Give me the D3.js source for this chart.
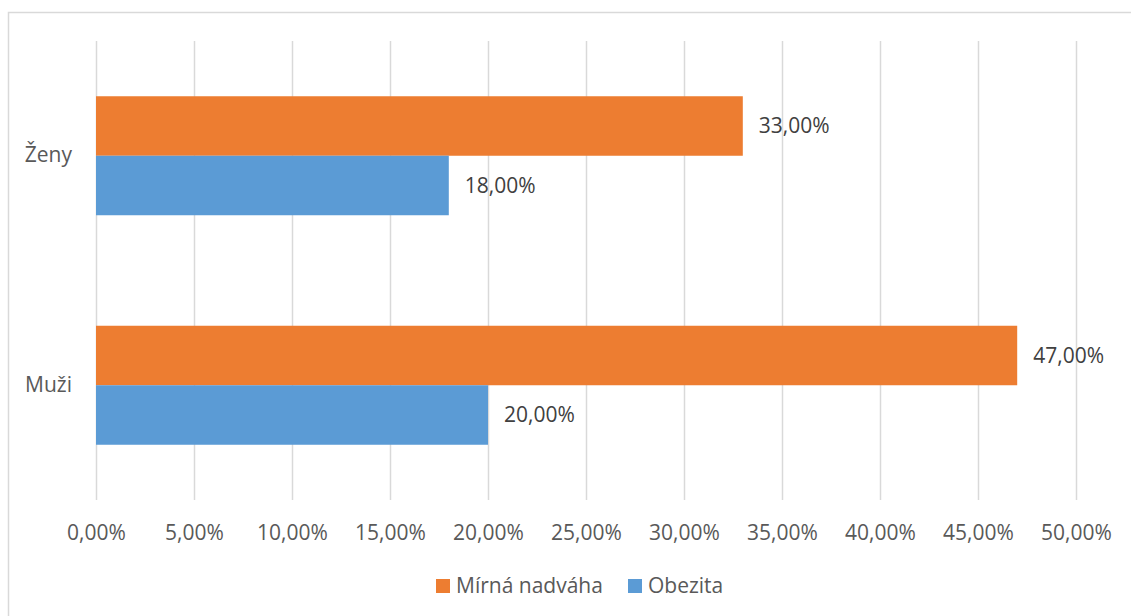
<!DOCTYPE html>
<html>
<head>
<meta charset="utf-8">
<script src="https://cdn.jsdelivr.net/npm/d3@7"></script>
<style>
  html, body { margin: 0; padding: 0; background: #fff; }
  svg { display: block; font-family: "Open Sans", "Noto Sans", sans-serif; }
</style>
</head>
<body>
<svg id="chart" width="1131" height="616"></svg>
<script>
// Categories, series and tick values
const categories = ["Ženy", "Muži"];
const seriesNames = ["Mírná nadváha", "Obezita"];
const seriesColors = ["#ED7D31", "#5B9BD5"];
const mirnaNadvaha = [0.33, 0.47];
const obezita = [0.18, 0.20];
const xTicks = [0, 0.05, 0.10, 0.15, 0.20, 0.25, 0.30, 0.35, 0.40, 0.45, 0.50];

const seriesValues = [mirnaNadvaha, obezita];
const fmt = v => d3.format(".2f")(v * 100).replace(".", ",") + "%";
const FS = 21;

const svg = d3.select("#chart");
const W = 1131, H = 616;
const plot = { left: 96, right: 1076, top: 41, bottom: 500 };

// outer frame
svg.append("rect")
  .attr("x", 8.5).attr("y", 12.5)
  .attr("width", W + 10).attr("height", H + 10)
  .attr("fill", "none").attr("stroke", "#d9d9d9").attr("stroke-width", 1.5);

const x = d3.scaleLinear().domain([0, 0.5]).range([plot.left, plot.right]);
const y = d3.scaleBand().domain(categories).range([plot.top, plot.bottom]).padding(0);

// bars take ~52% of each category band, split between the two series
const groupRatio = 119 / 229.5;
const y1 = d3.scaleBand().domain(seriesNames)
  .range([0, y.bandwidth() * groupRatio]).padding(0);
const groupOffset = y.bandwidth() * (1 - groupRatio) / 2;

// vertical gridlines + percentage labels
const xAxis = d3.axisBottom(x).tickValues(xTicks).tickFormat(fmt)
  .tickSize(-(plot.bottom - plot.top)).tickPadding(25);
const gx = svg.append("g")
  .attr("transform", `translate(0,${plot.bottom})`)
  .call(xAxis);
gx.select(".domain").remove();
gx.selectAll(".tick line").attr("stroke", "#d9d9d9").attr("stroke-width", 1.5);
gx.selectAll(".tick text")
  .attr("fill", "#595959").attr("font-size", FS)
  .attr("font-family", "'Open Sans', 'Noto Sans', sans-serif");

// category axis labels
const yAxis = d3.axisLeft(y).tickSize(0).tickPadding(24);
const gy = svg.append("g").attr("transform", `translate(${plot.left},0)`).call(yAxis);
gy.select(".domain").remove();
gy.selectAll(".tick text")
  .attr("fill", "#595959").attr("font-size", FS)
  .attr("font-family", "'Open Sans', 'Noto Sans', sans-serif");

// bars
const rows = [];
categories.forEach((c, ci) => {
  seriesNames.forEach((s, si) => {
    rows.push({ cat: c, series: s, value: seriesValues[si][ci], color: seriesColors[si] });
  });
});

const barG = svg.append("g");
barG.selectAll("rect").data(rows).join("rect")
  .attr("x", x(0))
  .attr("y", d => y(d.cat) + groupOffset + y1(d.series))
  .attr("width", d => x(d.value) - x(0))
  .attr("height", y1.bandwidth())
  .attr("fill", d => d.color);

// value labels
barG.selectAll("text").data(rows).join("text")
  .attr("x", d => x(d.value) + 16)
  .attr("y", d => y(d.cat) + groupOffset + y1(d.series) + y1.bandwidth() / 2)
  .attr("dy", "0.35em")
  .attr("fill", "#404040").attr("font-size", FS)
  .text(d => fmt(d.value));

// legend
const legend = svg.append("g").attr("font-size", FS).attr("fill", "#595959");
const legendItems = [
  { name: seriesNames[0], color: seriesColors[0], x: 436 },
  { name: seriesNames[1], color: seriesColors[1], x: 628 }
];
legendItems.forEach(it => {
  legend.append("rect").attr("x", it.x).attr("y", 579).attr("width", 14).attr("height", 14).attr("fill", it.color);
  legend.append("text").attr("x", it.x + 20).attr("y", 586).attr("dy", "0.35em").text(it.name);
});
</script>
</body>
</html>
